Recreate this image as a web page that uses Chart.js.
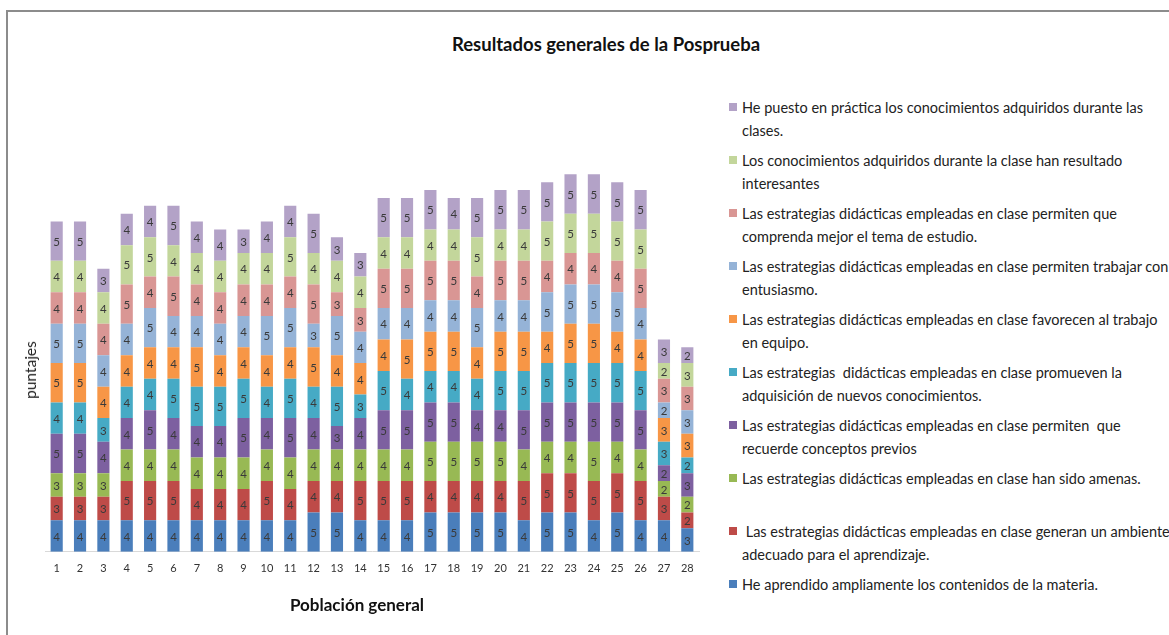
<!DOCTYPE html>
<html>
<head>
<meta charset="utf-8">
<script src="https://cdn.jsdelivr.net/npm/chart.js@4.4.1/dist/chart.umd.min.js"></script>
<style>
  html, body { margin: 0; padding: 0; background: #ffffff; }
  body { width: 1169px; height: 635px; position: relative; overflow: hidden; font-family: Lato, "Liberation Sans", sans-serif; }
  #frame { position: absolute; left: 6px; top: 10px; width: 1170px; height: 640px; border-top: 2px solid #8c8c8c; border-left: 2px solid #8c8c8c; box-sizing: border-box; }
  #wrap { position: absolute; left: 0; top: 0; width: 712px; height: 635px; }
  #title { position: absolute; top: 33px; left: 0; width: 1212px; text-align: center; font-weight: bold; font-size: 18.5px; color: #111; }
  #ytitle { position: absolute; left: 30px; top: 370px; transform: translate(-50%, -50%) rotate(-90deg); font-size: 15.5px; color: #222; white-space: nowrap; }
  #xtitle { position: absolute; left: 357px; top: 604px; transform: translate(-50%, -50%); font-size: 17px; font-weight: bold; color: #111; white-space: nowrap; }
  #legend { position: absolute; left: 729px; top: 0; }
  .item { position: absolute; left: 0; white-space: nowrap; font-size: 14.5px; line-height: 23px; color: #222; }
  .sw { position: absolute; left: 0; top: 7px; width: 8px; height: 8px; }
  .txt { position: absolute; left: 13px; top: 0; }
</style>
</head>
<body>
<div id="frame"></div>
<div id="title">Resultados generales de la Posprueba</div>
<div id="wrap"><canvas id="c"></canvas></div>
<div id="ytitle"></div>
<div id="xtitle"></div>
<div id="legend"></div>
<script>
const categories = ['1','2','3','4','5','6','7','8','9','10','11','12','13','14','15','16','17','18','19','20','21','22','23','24','25','26','27','28'];

const s1  = [4,4,4,4,4,4,4,4,4,4,4,5,5,4,4,4,5,5,5,5,4,5,5,4,5,4,4,3];
const s2  = [3,3,3,5,5,5,4,4,4,5,4,4,4,5,5,5,4,4,4,4,5,5,5,5,5,5,3,2];
const s3  = [3,3,3,4,4,4,4,4,4,4,4,4,4,4,4,4,5,5,5,5,4,4,4,5,4,4,2,2];
const s4  = [5,5,4,4,5,4,4,4,5,4,5,4,3,4,5,5,5,5,4,4,5,5,5,5,5,5,2,3];
const s5  = [4,4,3,4,4,5,5,5,5,4,5,4,5,3,5,4,4,4,4,5,5,5,5,5,5,5,3,2];
const s6  = [5,5,4,4,4,4,5,4,4,4,4,5,4,4,4,5,5,5,4,5,5,4,5,5,4,4,3,3];
const s7  = [5,5,4,4,5,4,4,4,4,5,5,3,5,4,4,4,4,4,5,4,4,5,5,5,5,4,2,3];
const s8  = [4,4,4,5,4,5,4,4,4,4,4,5,3,3,5,5,5,5,4,5,5,4,4,4,4,5,3,3];
const s9  = [4,4,4,5,5,4,4,4,4,4,5,4,4,4,4,4,4,4,5,4,4,5,5,5,5,5,2,3];
const s10 = [5,5,3,4,4,5,4,4,3,4,4,5,3,3,5,5,5,4,5,5,5,5,5,5,5,5,3,2];

const seriesLabels = [
  ['He aprendido ampliamente los contenidos de la materia.'],
  [' Las estrategias didácticas empleadas en clase generan un ambiente', 'adecuado para el aprendizaje.'],
  ['Las estrategias didácticas empleadas en clase han sido amenas.'],
  ['Las estrategias didácticas empleadas en clase permiten  que', 'recuerde conceptos previos'],
  ['Las estrategias  didácticas empleadas en clase promueven la', 'adquisición de nuevos conocimientos.'],
  ['Las estrategias didácticas empleadas en clase favorecen al trabajo', 'en equipo.'],
  ['Las estrategias didácticas empleadas en clase permiten trabajar con', 'entusiasmo.'],
  ['Las estrategias didácticas empleadas en clase permiten que', 'comprenda mejor el tema de estudio.'],
  ['Los conocimientos adquiridos durante la clase han resultado', 'interesantes'],
  ['He puesto en práctica los conocimientos adquiridos durante las', 'clases.']
];
const seriesValues = [s1, s2, s3, s4, s5, s6, s7, s8, s9, s10];
const seriesColors = ['#4a7ebb','#be4b48','#98b954','#7d60a0','#46aac5','#f79646','#95b3d7','#d99694','#c3d69b','#b3a2c7'];

const xTitle = 'Población general';
const yTitle = 'puntajes';

const FONT = 'Lato, "Liberation Sans", sans-serif';

const valueLabels = {
  id: 'valueLabels',
  afterDatasetsDraw(chart) {
    const ctx = chart.ctx;
    ctx.save();
    ctx.font = '11.5px ' + FONT;
    ctx.fillStyle = '#3a3a3a';
    ctx.textAlign = 'center';
    ctx.textBaseline = 'middle';
    chart.data.datasets.forEach((ds, i) => {
      const meta = chart.getDatasetMeta(i);
      meta.data.forEach((el, j) => {
        const p = el.getProps(['x','y','base'], true);
        ctx.fillText(String(ds.data[j]), p.x, (p.y + p.base) / 2 + 1);
      });
    });
    ctx.restore();
  }
};

document.getElementById('ytitle').textContent = yTitle;
document.getElementById('xtitle').textContent = xTitle;

new Chart(document.getElementById('c'), {
  type: 'bar',
  data: {
    labels: categories,
    datasets: seriesValues.map((v, i) => ({
      label: seriesLabels[i].join(' '),
      data: v,
      backgroundColor: seriesColors[i],
      borderWidth: 0,
      categoryPercentage: 1.0,
      barPercentage: 0.52
    }))
  },
  options: {
    responsive: true,
    maintainAspectRatio: false,
    animation: false,
    layout: { padding: { left: 45, right: 13, top: 80, bottom: 50 } },
    plugins: { legend: { display: false }, title: { display: false }, tooltip: { enabled: false } },
    scales: {
      x: {
        stacked: true,
        grid: { display: false, drawTicks: false },
        border: { display: true, color: '#d9d9d9', width: 1 },
        ticks: { color: '#333', font: { size: 11, family: FONT }, padding: 10, maxRotation: 0, autoSkip: false }
      },
      y: {
        stacked: true,
        min: 0,
        max: 60,
        display: false
      }
    }
  },
  plugins: [valueLabels]
});

// HTML legend (reverse order, like the reference)
const legend = document.getElementById('legend');
const firstLineY = 107;
const step = 53;
for (let k = 0; k < seriesValues.length; k++) {
  const i = seriesValues.length - 1 - k;
  const item = document.createElement('div');
  item.className = 'item';
  item.style.top = (firstLineY - 11.5 + k * step) + 'px';
  const sw = document.createElement('div');
  sw.className = 'sw';
  sw.style.background = seriesColors[i];
  const txt = document.createElement('div');
  txt.className = 'txt';
  txt.innerHTML = seriesLabels[i].map(s => s.replace(/ /g, '&nbsp;')).join('<br>');
  item.appendChild(sw);
  item.appendChild(txt);
  legend.appendChild(item);
}
</script>
</body>
</html>
